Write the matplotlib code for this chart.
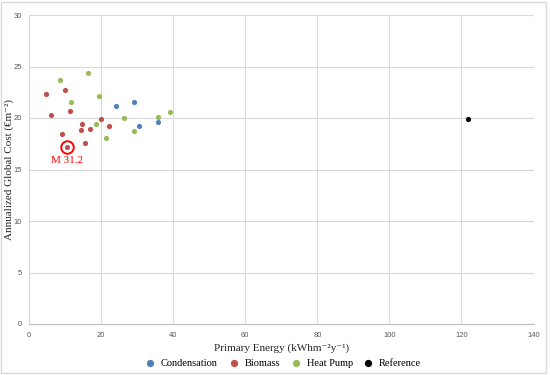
import matplotlib
matplotlib.use("Agg")
import matplotlib.pyplot as plt
from matplotlib.patches import Rectangle

# Data
cond_x = [24.0, 29.1, 30.6, 35.7]
cond_y = [21.13, 21.55, 19.19, 19.58]
bio_x = [4.8, 10.0, 6.1, 11.3, 14.7, 14.3, 16.9, 19.9, 22.1, 9.2, 15.6, 10.4]
bio_y = [22.33, 22.75, 20.29, 20.68, 19.45, 18.83, 18.9, 19.87, 19.26, 18.45, 17.6, 17.21]
hp_x = [8.6, 16.2, 11.7, 19.3, 18.6, 26.3, 29.0, 21.4, 35.9, 39.0]
hp_y = [23.72, 24.34, 21.52, 22.17, 19.42, 20.03, 18.74, 18.09, 20.07, 20.55]
ref_x = [121.9]
ref_y = [19.9]
highlight_x = 10.4
highlight_y = 17.21
highlight_label = "M 31.2"

x_ticks = [0, 20, 40, 60, 80, 100, 120, 140]
y_ticks = [0, 5, 10, 15, 20, 25, 30]

serif = ['Liberation Serif', 'DejaVu Serif']
sans = ['Liberation Sans', 'DejaVu Sans']

fig = plt.figure(figsize=(5.5, 3.75), dpi=100)
ax = fig.add_axes([0.053, 0.136, 0.917, 0.824])

s = 14
ax.scatter(cond_x, cond_y, s=s, color='#4F81BD', label='Condensation', zorder=3, linewidths=0)
ax.scatter(bio_x, bio_y, s=s, color='#C0504D', label='Biomass', zorder=3, linewidths=0)
ax.scatter(hp_x, hp_y, s=s, color='#9BBB59', label='Heat Pump', zorder=3, linewidths=0)
ax.scatter(ref_x, ref_y, s=s, color='#000000', label='Reference', zorder=3, linewidths=0)

ax.plot([highlight_x], [highlight_y], marker='o', markersize=9, markerfacecolor='none',
        markeredgecolor='#FF0000', markeredgewidth=1.4, zorder=4)
ax.annotate(highlight_label, (highlight_x, highlight_y), xytext=(0, -10), textcoords='offset points',
            ha='center', va='center', color='#FF0000', fontsize=8, family=serif)

ax.set_xlim(0, 140)
ax.set_ylim(0, 30)
ax.set_xticks(x_ticks)
ax.set_yticks(y_ticks)
ax.grid(True, color='#D9D9D9', linewidth=0.8, zorder=0)
ax.set_axisbelow(True)
for sp in ['top', 'right', 'left']:
    ax.spines[sp].set_visible(False)
ax.spines['bottom'].set_color('#BFBFBF')
ax.spines['bottom'].set_linewidth(0.8)
ax.tick_params(axis='x', length=0, labelsize=5.5, labelcolor='#595959', pad=6)
ax.tick_params(axis='y', length=0, labelsize=5.5, labelcolor='#595959', pad=5)
for lbl in ax.get_xticklabels() + ax.get_yticklabels():
    lbl.set_family(sans)

ax.set_xlabel('Primary Energy (kWhm\u207b\u00b2y\u207b\u00b9)', fontsize=8, family=serif, color='#262626', labelpad=3)
ax.set_ylabel('Annualized Global Cost (\u20acm\u207b\u00b2)', fontsize=8, family=serif, color='#262626')
ax.yaxis.set_label_coords(-0.030, 0.5)

leg = fig.legend(loc='center', bbox_to_anchor=(0.51, 0.032), ncol=4, frameon=False,
                 prop={'family': serif, 'size': 7.5}, handletextpad=0.05, columnspacing=0.5,
                 markerscale=1.4)

fig.patches.append(Rectangle((0.002, 0.005), 0.99, 0.99, transform=fig.transFigure,
                             fill=False, edgecolor='#D9D9D9', linewidth=1.0))

fig.savefig('out.png', dpi=100)
